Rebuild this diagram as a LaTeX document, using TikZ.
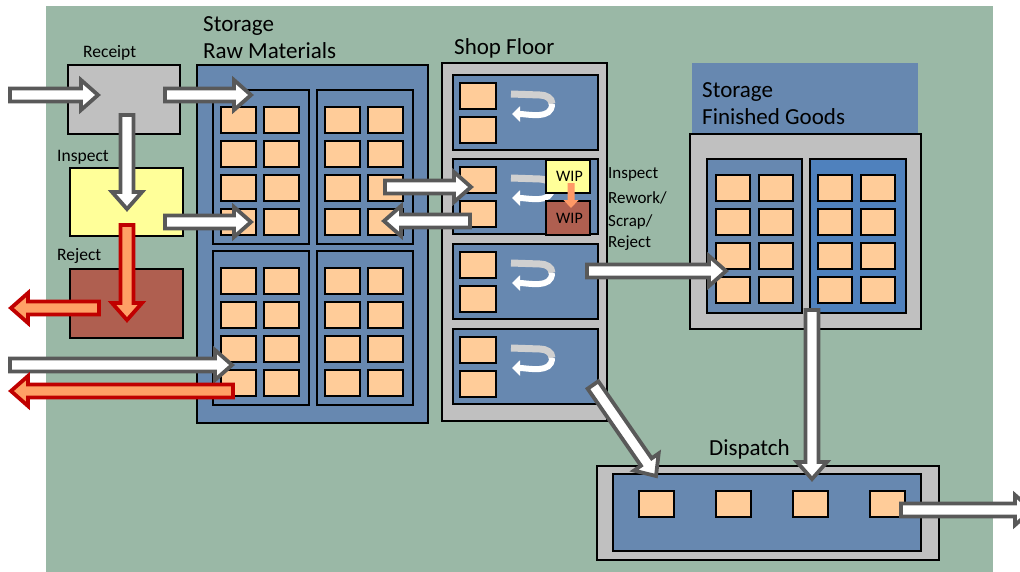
\documentclass[tikz,border=0pt]{standalone}
\usepackage{fontspec}
\setmainfont{Carlito}
\usetikzlibrary{calc,arrows.meta}
\definecolor{bggreen}{HTML}{9AB8A6}
\definecolor{steel}{HTML}{6788B0}
\definecolor{brightblue}{HTML}{4F81BD}
\definecolor{boxgray}{HTML}{C0C0C0}
\definecolor{peach}{HTML}{FFCC99}
\definecolor{inspyellow}{HTML}{FFFF99}
\definecolor{rejbrown}{HTML}{AF5F50}
\definecolor{arrowgray}{HTML}{595959}
\definecolor{arrowred}{HTML}{C00000}
\definecolor{redfill}{HTML}{FFA066}
\definecolor{orangefill}{HTML}{FF9966}
\definecolor{ugray}{HTML}{D0D0D0}
\tikzset{
  box/.style={draw=black, line width=2pt, inner sep=0pt, anchor=north west},
  item/.style={box, fill=peach, minimum width=35pt, minimum height=26pt},
  warrow/.style={draw=arrowgray, fill=white, line width=3.8pt},
  rarrow/.style={draw=arrowred, fill=redfill, line width=3.8pt},
  oarrow/.style={draw=none, fill=orangefill},
  uturn/.style={line width=7pt},
  lblsmall/.style={font=\fontsize{17.5}{21}\selectfont, inner sep=0pt, anchor=base west},
  lblbig/.style={font=\fontsize{23}{27}\selectfont, inner sep=0pt, anchor=base west},
}
% \blockarrow[style]{from}{to}{half shaft}{half head}{head length}
\newcommand\blockarrow[6][warrow]{%
  \coordinate (ba-c) at ($(#3)!#6!(#2)$);
  \draw[#1] ($(#2)!#4!90:(#3)$) -- ($(ba-c)!#4!90:(#3)$) -- ($(ba-c)!#5!90:(#3)$)
    -- (#3) -- ($(ba-c)!#5!-90:(#3)$) -- ($(ba-c)!#4!-90:(#3)$) -- ($(#2)!#4!-90:(#3)$) -- cycle;
}
\begin{document}
\begin{tikzpicture}[x=1pt,y=-1pt]
\clip (0,0) rectangle (1020,571);
\fill[white] (0,0) rectangle (1020,571);
\node[fill=bggreen, inner sep=0pt, anchor=north west, minimum width=947pt, minimum height=570pt] (bg) at (46,6) {};

% Receipt / Inspect / Reject
\node[box, fill=boxgray, minimum width=112pt, minimum height=69pt] (receipt) at (67,64) {};
\node[box, fill=inspyellow, minimum width=113pt, minimum height=68pt] (inspect) at (69,167) {};
\node[box, fill=rejbrown, minimum width=113pt, minimum height=69pt] (reject) at (69,268) {};
\node[lblsmall] (receipt-l) at (83,57) {Receipt};
\node[lblsmall] (inspect-l) at (57,161) {Inspect};
\node[lblsmall] (reject-l) at (57,260) {Reject};

% Storage raw materials
\node[box, fill=steel, minimum width=231pt, minimum height=358pt] (rm) at (196,64) {};
\node[lblbig] (rm-l1) at (203,31) {Storage};
\node[lblbig] (rm-l2) at (203,58) {Raw Materials};
\foreach \q/\qx/\qy in {a/212/89,b/316/89,c/212/250,d/316/250}{
  \node[box, fill=steel, minimum width=96pt, minimum height=154pt] (rm-\q) at (\qx,\qy) {};
  \foreach \i in {0,1}{\foreach \j in {0,...,3}{
    \node[item] (rm-\q-\i-\j) at ({\qx+8+43*\i},{\qy+17+34*\j}) {};
  }}
}

% Shop floor
\node[box, fill=boxgray, minimum width=165pt, minimum height=358pt] (sf) at (441,62) {};
\node[lblbig] (sf-l) at (454,54) {Shop Floor};
\foreach \s/\sy in {1/74,2/158,3/243,4/328}{
  \node[box, fill=steel, minimum width=145pt, minimum height=75pt] (st\s) at (452,\sy) {};
  \node[item, minimum width=36pt] (st\s-a) at (459,{\sy+8}) {};
  \node[item, minimum width=36pt] (st\s-b) at (459,{\sy+42}) {};
  \coordinate (u\s-a) at (511,{\sy+20});
  \coordinate (u\s-b) at (540,{\sy+21});
  \coordinate (u\s-c) at (552,{\sy+30});
  \coordinate (u\s-d) at (512,{\sy+40});
  \draw[uturn, draw=ugray] (u\s-a) -- (u\s-b) to[out=0,in=90] (u\s-c);
  \draw[uturn, line width=6pt, draw=white, -{Triangle[width=15pt,length=8pt]}] (u\s-c) to[out=-90,in=0] (u\s-d);
}
\node[box, fill=inspyellow, minimum width=44pt, minimum height=33pt, font=\fontsize{16}{18}\selectfont] (wip1) at (545,159) {\hspace*{3pt}WIP};
\node[box, fill=rejbrown, minimum width=44pt, minimum height=34pt, font=\fontsize{16}{18}\selectfont] (wip2) at (545,200) {\hspace*{3pt}WIP};
\coordinate (wo-s) at (571,183);
\coordinate (wo-e) at (571,208);
\blockarrow[oarrow]{wo-s}{wo-e}{3.5pt}{7.5pt}{8pt}
\node[lblsmall, font=\fontsize{17}{20}\selectfont] (ins-l) at (608,178) {Inspect};
\node[lblsmall, font=\fontsize{17}{20}\selectfont] (rew-l) at (608,203) {Rework/};
\node[lblsmall, font=\fontsize{17}{20}\selectfont] (scr-l) at (608,226) {Scrap/};
\node[lblsmall, font=\fontsize{17}{20}\selectfont] (rej-l) at (608,247) {Reject};

% Storage finished goods
\node[fill=steel, inner sep=0pt, anchor=north west, minimum width=226pt, minimum height=70pt] (fg-h) at (692,63) {};
\node[lblbig] (fg-l1) at (702,97) {Storage};
\node[lblbig] (fg-l2) at (702,124) {Finished Goods};
\node[box, fill=boxgray, minimum width=231pt, minimum height=195pt] (fg) at (689,133) {};
\node[box, fill=steel, minimum width=95pt, minimum height=154pt] (fg-a) at (706,158) {};
\node[box, fill=brightblue, minimum width=96pt, minimum height=154pt] (fg-b) at (809,158) {};
\foreach \q/\qx in {a/715,b/817}{
  \foreach \i in {0,1}{\foreach \j in {0,...,3}{
    \node[item, minimum width=34pt] (fg-\q-\i-\j) at ({\qx+43*\i},{174+34*\j}) {};
  }}
}

% Dispatch
\node[box, fill=boxgray, minimum width=342pt, minimum height=94pt] (dp) at (596,465) {};
\node[box, fill=steel, minimum width=308pt, minimum height=77pt] (dp-in) at (612,473) {};
\foreach \k in {0,...,3}{\node[item] (dp-\k) at ({638+77*\k},490) {};}
\node[lblbig] (dp-l) at (709,455) {Dispatch};

% arrow end points
\coordinate (in-s) at (10,95);    \coordinate (in-e) at (98,95);
\coordinate (rr-s) at (165,95);   \coordinate (rr-e) at (251,95);
\coordinate (ri-s) at (127,115);  \coordinate (ri-e) at (127,209);
\coordinate (ir-s) at (165,222);  \coordinate (ir-e) at (251,222);
\coordinate (xr-s) at (10,365);   \coordinate (xr-e) at (232,365);
\coordinate (r2-s) at (385,187);  \coordinate (r2-e) at (471,187);
\coordinate (2r-s) at (470,221);  \coordinate (2r-e) at (384,221);
\coordinate (3f-s) at (587,271);  \coordinate (3f-e) at (726,271);
\coordinate (4d-s) at (593,385);  \coordinate (4d-e) at (656,476);
\coordinate (fd-s) at (812,310);  \coordinate (fd-e) at (812,479);
\coordinate (do-s) at (901,510);  \coordinate (do-e) at (1032,510);
\coordinate (ij-s) at (127,225);  \coordinate (ij-e) at (127,320);
\coordinate (jo-s) at (99,308);   \coordinate (jo-e) at (11,308);
\coordinate (ro-s) at (233,391);  \coordinate (ro-e) at (11,391);

\blockarrow{in-s}{in-e}{6.5pt}{15pt}{17pt}
\blockarrow{rr-s}{rr-e}{6.5pt}{15pt}{17pt}
\blockarrow{ir-s}{ir-e}{6.5pt}{15pt}{17pt}
\blockarrow{xr-s}{xr-e}{6.5pt}{15pt}{17pt}
\blockarrow{r2-s}{r2-e}{6.5pt}{15pt}{17pt}
\blockarrow{2r-s}{2r-e}{6.5pt}{15pt}{17pt}
\blockarrow{3f-s}{3f-e}{6.5pt}{15pt}{17pt}
\blockarrow{4d-s}{4d-e}{6.5pt}{15pt}{17pt}
\blockarrow{fd-s}{fd-e}{6.5pt}{15pt}{17pt}
\blockarrow{do-s}{do-e}{6.5pt}{15pt}{17pt}
\blockarrow[rarrow]{ij-s}{ij-e}{6.5pt}{15pt}{17pt}
\blockarrow{ri-s}{ri-e}{6.5pt}{15pt}{17pt}
\blockarrow[rarrow]{jo-s}{jo-e}{6.5pt}{15pt}{17pt}
\blockarrow[rarrow]{ro-s}{ro-e}{6.5pt}{15pt}{17pt}
\end{tikzpicture}
\end{document}
